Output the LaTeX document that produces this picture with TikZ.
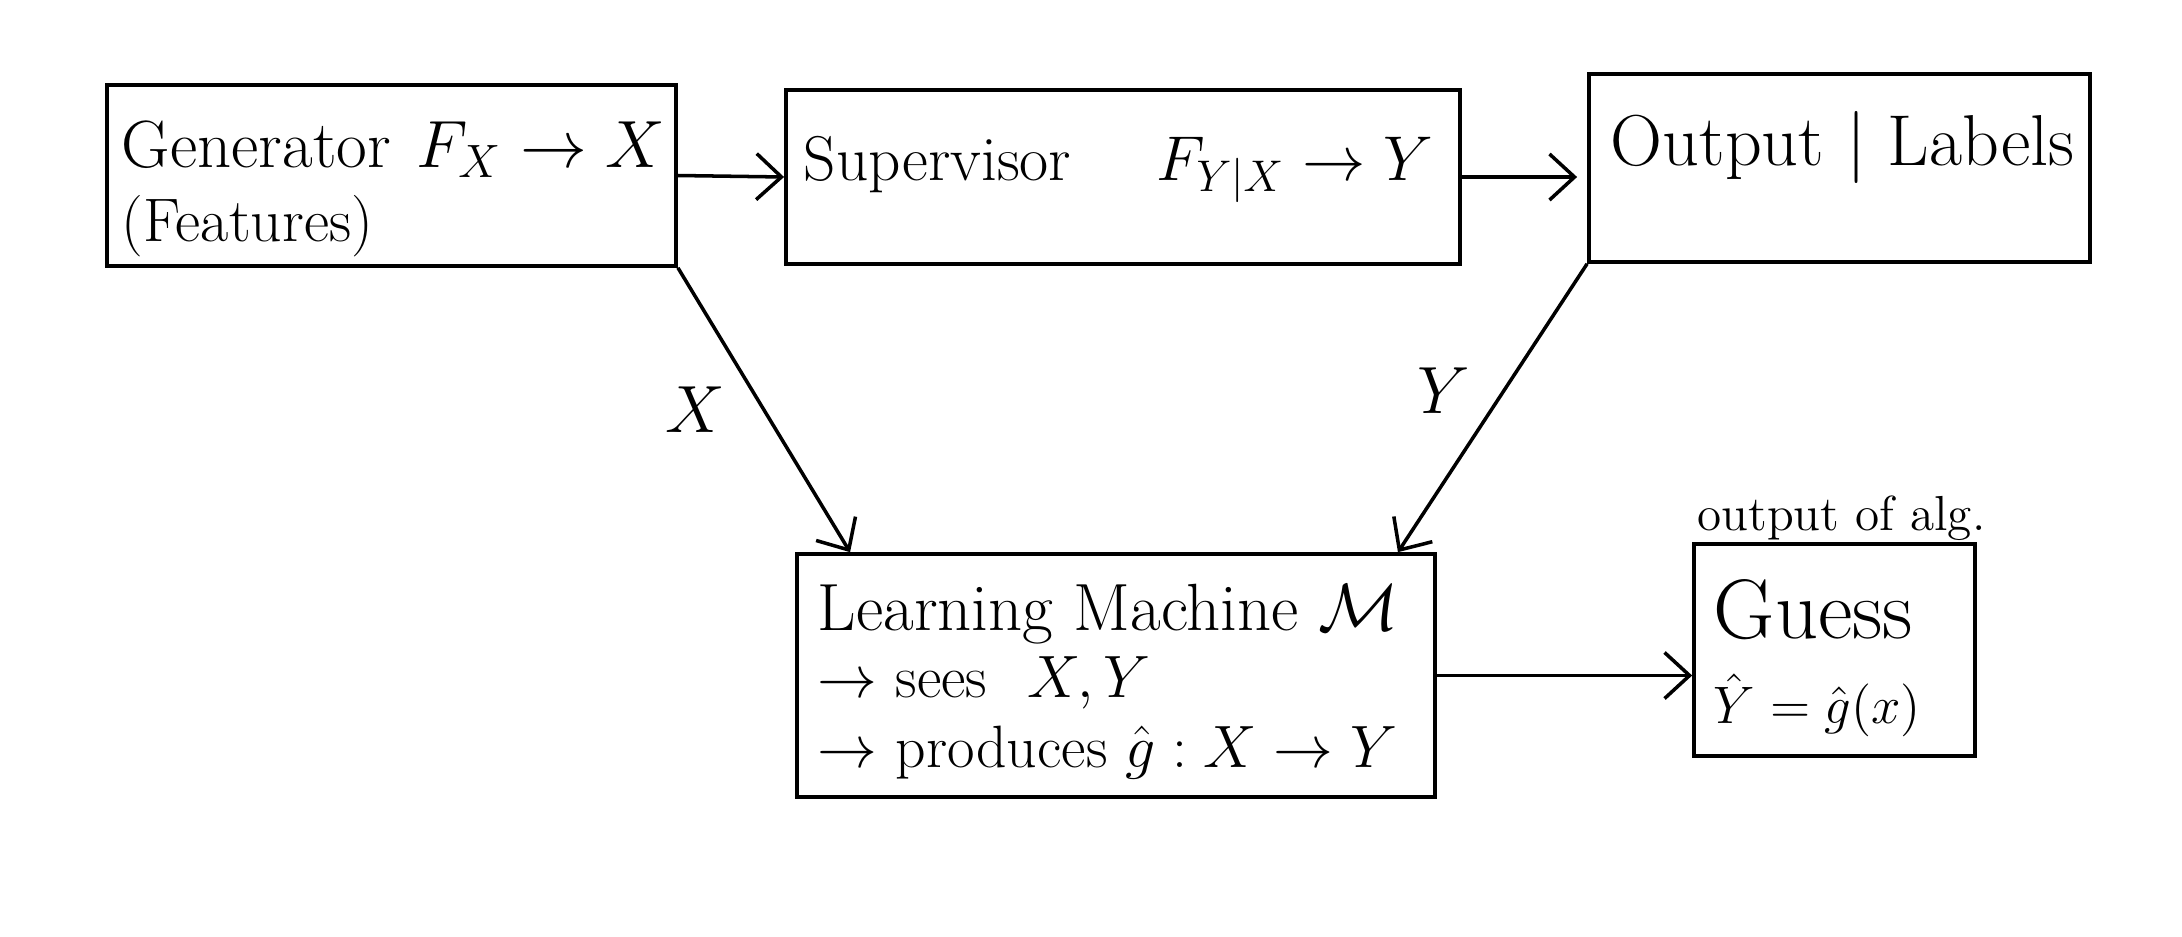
\documentclass[tikz,border=0pt]{standalone}
\usepackage{fix-cm}
\usepackage{amsmath}
\usepackage{fontspec}
\usetikzlibrary{arrows.meta}

\begin{document}
\begin{tikzpicture}[x=0.01cm,y=-0.01cm]
  \tikzstyle{every node}=[draw, rectangle, line width=1pt, inner sep=0pt]
  \tikzstyle{lbl}=[draw=none, anchor=north west, align=left]
  \useasboundingbox (0,0) rectangle (2182,936);

  % Specification of nodes (position, size, text in the upper left corner)
  \node[minimum width=5.69cm, minimum height=1.81cm,
    label={[lbl, xshift=1.5mm, yshift=-3.6mm, font=\fontsize{19}{21}\selectfont]north west:{Generator\hspace{2.5mm}$F_X\to X$\\ \fontsize{17.5}{21}\selectfont (Features)}}]
    (Generator) at (391.5,175.5) {};
  \node[minimum width=6.74cm, minimum height=1.74cm,
    label={[lbl, xshift=1.8mm, yshift=-4.6mm, font=\fontsize{18}{18}\selectfont]north west:{Supervisor\hspace{8.5mm}$F_{Y|X}\to Y$}}]
    (Supervisor) at (1123,177) {};
  \node[minimum width=5.01cm, minimum height=1.88cm,
    label={[lbl, xshift=2.2mm, yshift=-3.7mm, font=\fontsize{20.5}{21}\selectfont]north west:{Output | Labels}}]
    (Output) at (1839.5,168) {};
  \node[minimum width=6.38cm, minimum height=2.43cm,
    label={[lbl, xshift=2.1mm, yshift=-3mm, font=\fontsize{19}{19}\selectfont]north west:{Learning Machine $\mathcal{M}$\\ \fontsize{17}{19}\selectfont $\to$ sees\hspace{4mm}$X,Y$\\[1pt] \fontsize{17}{19}\selectfont $\to$ produces $\hat{g}:X\to Y$}}]
    (Machine) at (1116,675.5) {};
  \node[minimum width=2.81cm, minimum height=2.12cm,
    label={[lbl, xshift=2mm, yshift=-3.6mm, font=\fontsize{24}{24}\selectfont]north west:{Guess\\ \fontsize{15}{24}\selectfont $\hat{Y}=\hat{g}(x)$}},
    label={[draw=none, xshift=0.7mm, font=\fontsize{14}{14}\selectfont]north:{output of alg.}}]
    (Guess) at (1834.5,650) {};

  \begin{scope}[-{Straight Barb[length=2.5mm,width=4.6mm]}, line width=1pt]
    \tikzstyle{every node}=[draw=none, font=\fontsize{19}{19}\selectfont]
    \draw (Generator.east) -- (Supervisor.west);
    \draw (Supervisor.east) -- ([xshift=-1mm]Output.west |- Supervisor.east);
    \draw (Generator.south east) -- node[pos=0.5, left=2.5mm] {$X$} ([xshift=5.5mm]Machine.north west);
    \draw (Output.south west) -- node[pos=0.44, left=2mm] {$Y$} ([xshift=-3.9mm]Machine.north east);
    \draw (Machine.east) -- (Guess.west |- Machine.east);
  \end{scope}
\end{tikzpicture}
\end{document}
